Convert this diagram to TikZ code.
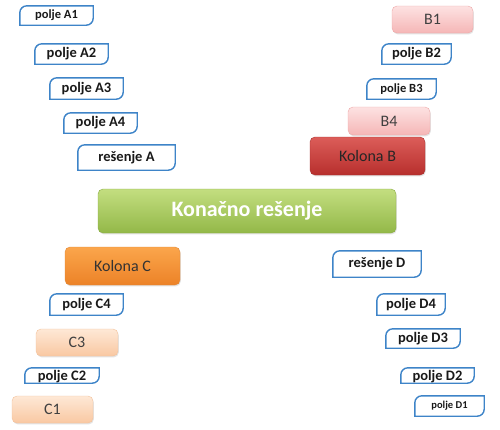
\documentclass[tikz,border=0pt]{standalone}
\usepackage{fontspec}
\setmainfont{Carlito}
\usetikzlibrary{shadows}

\definecolor{ruboplava}{HTML}{3E84C8}
\definecolor{rozegore}{HTML}{FDE2E2}
\definecolor{rozedole}{HTML}{F5B6B6}
\definecolor{rozeivica}{HTML}{EDA8A8}
\definecolor{crvgore}{HTML}{DC5D59}
\definecolor{crvdole}{HTML}{B72F2D}
\definecolor{crvivica}{HTML}{A8302E}
\definecolor{nargore}{HTML}{FBA64C}
\definecolor{nardole}{HTML}{EC8227}
\definecolor{narivica}{HTML}{E0893A}
\definecolor{breskgore}{HTML}{FEE8D6}
\definecolor{breskdole}{HTML}{F9C8A2}
\definecolor{breskivica}{HTML}{F3C29C}
\definecolor{zelgore}{HTML}{C3DE80}
\definecolor{zeldole}{HTML}{93B848}
\definecolor{zelivica}{HTML}{88AA42}

\begin{document}
\begin{tikzpicture}[x=1pt, y=-1pt,
    polje/.style={inner sep=0pt, font=\bfseries\fontsize{14.5}{16}\selectfont, text=black!90},
    sitno/.style={font=\bfseries\fontsize{12.5}{14}\selectfont},
    rub/.style={draw=ruboplava, line width=1.4pt},
    blok/.style={rounded corners=5pt, inner sep=0pt, font=\fontsize{16}{18}\selectfont,
        drop shadow={opacity=0.22, shadow xshift=0.8pt, shadow yshift=-1.4pt}},
    roze/.style={blok, top color=rozegore, bottom color=rozedole, draw=rozeivica, text=black!75},
    crvena/.style={blok, top color=crvgore, bottom color=crvdole, draw=crvivica, text=black!85},
    narandz/.style={blok, top color=nargore, bottom color=nardole, draw=narivica, text=black!80},
    breskva/.style={blok, top color=breskgore, bottom color=breskdole, draw=breskivica, text=black!75}]
    \useasboundingbox (0,0) rectangle (500,429);

    % kolona A
    \node[polje, sitno, minimum width=73pt, minimum height=19pt] (pA1) at (56.5,15.5) {polje A1};
    \node[polje, minimum width=73pt, minimum height=20pt] (pA2) at (71.5,54) {polje A2};
    \node[polje, minimum width=73pt, minimum height=21pt] (pA3) at (86.5,88.5) {polje A3};
    \node[polje, minimum width=73pt, minimum height=20pt] (pA4) at (100.5,123) {polje A4};
    \node[polje, minimum width=97pt, minimum height=25pt] (resA) at (126.5,157.5) {rešenje A};

    % kolona B
    \node[roze, minimum width=81pt, minimum height=27pt] (B1) at (432.5,19.5) {B1};
    \node[polje, minimum width=69pt, minimum height=20pt] (pB2) at (416.5,54) {polje B2};
    \node[polje, sitno, minimum width=69pt, minimum height=20pt] (pB3) at (401.5,89) {polje B3};
    \node[roze, minimum width=82pt, minimum height=28pt] (B4) at (389,121) {B4};
    \node[crvena, minimum width=115pt, minimum height=38pt] (kolB) at (367.5,156) {Kolona B};

    % sredina
    \node[blok, top color=zelgore, bottom color=zeldole, draw=zelivica, text=white,
        font=\bfseries\fontsize{22}{24}\selectfont, minimum width=298pt, minimum height=44pt]
        (konacno) at (247,211) {Konačno rešenje};

    % kolona C
    \node[narandz, minimum width=115pt, minimum height=38pt] (kolC) at (122.5,266) {Kolona C};
    \node[polje, minimum width=73pt, minimum height=21pt] (pC4) at (86.5,304.5) {polje C4};
    \node[breskva, minimum width=82pt, minimum height=27pt] (C3) at (77,342.5) {C3};
    \node[polje, minimum width=74pt, minimum height=15pt, text depth=0pt] (pC2) at (62,375.5) {polje C2};
    \node[breskva, minimum width=81pt, minimum height=27pt] (C1) at (52.5,409.5) {C1};

    % kolona D
    \node[polje, minimum width=88pt, minimum height=26pt] (resD) at (377,264) {rešenje D};
    \node[polje, minimum width=68pt, minimum height=21pt] (pD4) at (411,304.5) {polje D4};
    \node[polje, minimum width=74pt, minimum height=19pt] (pD3) at (423,338.5) {polje D3};
    \node[polje, minimum width=73pt, minimum height=15pt, text depth=0pt] (pD2) at (437.5,375.5) {polje D2};
    \node[polje, font=\bfseries\fontsize{10.5}{12}\selectfont, minimum width=69pt, minimum height=20pt] (pD1) at (449.5,406) {polje D1};

    \foreach \n in {pA1,pA2,pA3,pA4,resA,pB2,pB3,pC4,pC2,resD,pD4,pD3,pD2,pD1}
        \draw[rub] (\n.south west) -- ([yshift=-7pt]\n.north west)
            arc[start angle=180, end angle=90, radius=7pt] -- (\n.north east)
            -- ([yshift=7pt]\n.south east) arc[start angle=0, end angle=-90, radius=7pt] -- cycle;
\end{tikzpicture}
\end{document}
